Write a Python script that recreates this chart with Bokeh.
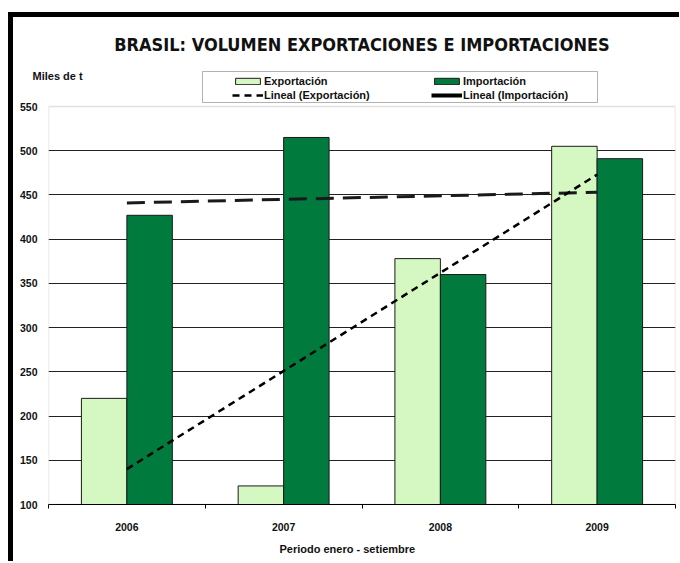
from bokeh.plotting import figure
from bokeh.models import (FactorRange, Range1d, ColumnDataSource, Legend, LegendItem, Title,
                          LinearAxis, CategoricalAxis, FixedTicker, BoxAnnotation)
from bokeh.transform import dodge
from bokeh.layouts import column
from bokeh.embed import file_html
from bokeh.resources import INLINE

# ---- data ----
years = ["2006", "2007", "2008", "2009"]
exportacion = [220, 121, 378, 505]
importacion = [427, 515, 360, 491]
trend_years = ["2006", "2009"]
lineal_exportacion = [140, 473]
lineal_importacion = [441, 453]
y_ticks = [100, 150, 200, 250, 300, 350, 400, 450, 500, 550]

title_text = "BRASIL: VOLUMEN EXPORTACIONES E IMPORTACIONES"
y_title = "Miles de t"
x_title = "Periodo enero - setiembre"

EXP_COLOR = "#d5f7c1"
IMP_COLOR = "#007a3d"
FONT = "Liberation Sans"
TXT = "#111111"

# ---- layout (pixels) ----
FIG_W, FIG_H = 666, 544
MB_LEFT, MB_RIGHT, MB_TOP, MB_BOTTOM = 35, 4, 50, 57
PLOT_H_PX = 398                     # height of the 100..550 plot area
FRAME_H = FIG_H - MB_TOP - MB_BOTTOM
Y0, Y1 = y_ticks[0], y_ticks[-1]
units_per_px = (Y1 - Y0) / PLOT_H_PX
y_top = Y0 + FRAME_H * units_per_px
x_units_per_px = len(years) / (FIG_W - MB_LEFT - MB_RIGHT)

p = figure(x_range=FactorRange(factors=years, range_padding=0),
           y_range=Range1d(Y0, y_top),
           width=FIG_W, height=FIG_H,
           output_backend="svg", toolbar_location=None,
           x_axis_location=None,
           min_border_left=MB_LEFT, min_border_right=MB_RIGHT,
           min_border_top=MB_TOP, min_border_bottom=MB_BOTTOM)

p.outline_line_color = None
p.background_fill_color = "white"
p.border_fill_color = "white"

# y axis
p.yaxis.ticker = FixedTicker(ticks=y_ticks)
p.yaxis.axis_line_color = None
p.yaxis.major_tick_line_color = None
p.yaxis.minor_tick_line_color = None
p.yaxis.major_tick_out = 0
p.yaxis.minor_tick_out = 0
p.yaxis.major_label_text_font = FONT
p.yaxis.major_label_text_font_style = "bold"
p.yaxis.major_label_text_font_size = "10.5px"
p.yaxis.major_label_text_color = TXT
p.yaxis.major_label_standoff = 11

p.ygrid.ticker = FixedTicker(ticks=y_ticks[1:-1])
p.ygrid.grid_line_color = "#222222"
p.ygrid.grid_line_width = 1
p.xgrid.grid_line_color = None

# plot-area border (gray)
p.add_layout(BoxAnnotation(left=0, right=len(years), bottom=Y0, top=Y1,
                           fill_alpha=0, line_color="#9a9a9a", line_width=1.5,
                           level="underlay"))

# x axes: boundary ticks (minor only) + category labels
tick_axis = LinearAxis(ticker=FixedTicker(ticks=[], minor_ticks=list(range(len(years) + 1))),
                       axis_line_color="black", axis_line_width=1,
                       major_tick_line_color=None,
                       minor_tick_line_color="black", minor_tick_out=4, minor_tick_in=0,
                       major_label_standoff=0)
p.add_layout(tick_axis, "below")
cat_axis = CategoricalAxis(axis_line_color=None, major_tick_line_color=None,
                           minor_tick_line_color=None,
                           major_label_text_font=FONT,
                           major_label_text_font_style="bold",
                           major_label_text_font_size="10.5px",
                           major_label_text_color=TXT,
                           major_label_standoff=8)
p.add_layout(cat_axis, "below")
p.add_layout(Title(text=x_title, align="left", offset=231, standoff=14,
                   text_font=FONT, text_font_style="bold", text_font_size="11px",
                   text_color=TXT), "below")

# bars
src = ColumnDataSource(dict(year=years, exportacion=exportacion, importacion=importacion))
r_exp = p.vbar(x=dodge("year", -0.145, range=p.x_range), top="exportacion", width=0.29,
               source=src, fill_color=EXP_COLOR, line_color="#1a1a1a", line_width=1)
r_imp = p.vbar(x=dodge("year", 0.145, range=p.x_range), top="importacion", width=0.29,
               source=src, fill_color=IMP_COLOR, line_color="#1a1a1a", line_width=1)

# trend lines
tsrc = ColumnDataSource(dict(year=trend_years, exp=lineal_exportacion, imp=lineal_importacion))
r_timp = p.line("year", "imp", source=tsrc, line_color="#1a1a1a", line_width=3,
                line_dash="18 9")
r_texp = p.line("year", "exp", source=tsrc, line_color="black", line_width=2.5,
                line_dash="7 5")
# solid swatch used only by the legend (a single point draws no visible line)
r_timp_leg = p.line(x=trend_years[:1], y=lineal_importacion[:1], line_color="black",
                    line_width=4)

# legend box (pixel offsets from the plot area's top-left corner)
p.add_layout(BoxAnnotation(left=154 * x_units_per_px, right=549 * x_units_per_px,
                           bottom=Y1 + 4 * units_per_px, top=Y1 + 35 * units_per_px,
                           fill_color="white", fill_alpha=1,
                           line_color="black", line_width=1))

def make_legend(items, loc):
    return Legend(items=items, location=loc, orientation="vertical",
                  padding=0, spacing=0, margin=0,
                  glyph_width=31, glyph_height=8, label_height=14,
                  label_standoff=1,
                  label_text_font=FONT, label_text_font_style="bold",
                  label_text_font_size="11px", label_text_color=TXT,
                  border_line_color=None, background_fill_alpha=0)

legend_bottom = PLOT_H_PX + 4
leg1 = make_legend([LegendItem(label="Exportación", renderers=[r_exp]),
                    LegendItem(label="Lineal (Exportación)", renderers=[r_texp])],
                   (184, legend_bottom))
leg2 = make_legend([LegendItem(label="Importación", renderers=[r_imp]),
                    LegendItem(label="Lineal (Importación)", renderers=[r_timp_leg])],
                   (383, legend_bottom))
p.add_layout(leg1, "center")
p.add_layout(leg2, "center")

# texts above the plot
p.add_layout(Title(text=y_title, align="left", offset=-16, standoff=-28,
                   text_font=FONT, text_font_style="bold", text_font_size="11px",
                   text_color=TXT), "above")
p.add_layout(Title(text=title_text, align="center", standoff=25, offset=-3,
                   text_font="DejaVu Sans Condensed", text_font_style="bold",
                   text_font_size="18px", text_color=TXT), "above")

layout = column(p, styles={"margin-left": "8px", "margin-top": "12px",
                           "border-left": "5px solid black", "border-top": "5px solid black"})

open("out.html", "w").write(file_html(layout, INLINE))
